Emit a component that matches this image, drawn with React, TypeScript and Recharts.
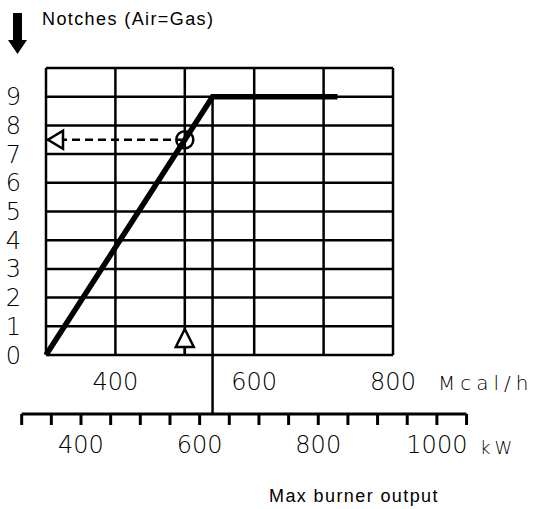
import {
  ComposedChart,
  Line,
  Scatter,
  XAxis,
  YAxis,
  CartesianGrid,
  ReferenceLine,
} from "recharts";

// ticks
const notchTicks = [0, 1, 2, 3, 4, 5, 6, 7, 8, 9, 10];
const notchLabels = [0, 1, 2, 3, 4, 5, 6, 7, 8, 9];
const mcalTicks = [300, 400, 500, 600, 700, 800];
const mcalLabels = [400, 600, 800];
const kwTicks = [300, 350, 400, 450, 500, 550, 600, 650, 700, 750, 800, 850, 900, 950, 1000, 1050];
const kwLabels = [400, 600, 800, 1000];

// regulation curve (Mcal/h -> notches)
const curveMcal = [300, 540, 720];
const curveNotches = [0, 9, 9];

// reading example
const readingMcal = 500;
const readingNotch = 7.5;
const maxOutputMcal = 540;

// kW values lying under the left / right edge of the Mcal grid
const kwDomain = [341, 926];
// where the kW axis sits, in notch units (below 0)
const kwAxisNotch = -2.06;

const kwRows = kwTicks.map((kw) => ({ kw }));
const curveData = curveMcal.map((m, i) => ({ mcal: m, notch: curveNotches[i] }));
const dashData = [
  { mcal: mcalTicks[0], notch: readingNotch },
  { mcal: readingMcal, notch: readingNotch },
];
const circleData = [{ mcal: readingMcal, notch: readingNotch }];
const arrowData = [
  { mcal: mcalTicks[0], notch: readingNotch, dir: "left" },
  { mcal: readingMcal, notch: 0, dir: "up" },
];

const digitFont = {
  fontFamily: "'DejaVu Sans', sans-serif",
  fontWeight: 200,
  fontSize: 24,
  fill: "#000",
};

const titleFont = {
  fontFamily: "'Liberation Sans', Arial, sans-serif",
  fontSize: 18,
  letterSpacing: 1.4,
  fill: "#000",
};

const ArrowShape = (props: any) => {
  const { cx, cy, payload } = props;
  if (payload.dir === "left") {
    return (
      <path
        d={`M${cx + 2},${cy} L${cx + 17},${cy - 9} L${cx + 17},${cy + 9} Z`}
        fill="#fff"
        stroke="#000"
        strokeWidth={2.5}
      />
    );
  }
  return (
    <g>
      <path
        d={`M${cx},${cy - 26} L${cx + 9},${cy - 8} L${cx - 9},${cy - 8} Z`}
        fill="#fff"
        stroke="#000"
        strokeWidth={2.5}
      />
      <line x1={cx} y1={cy - 8} x2={cx} y2={cy} stroke="#000" strokeWidth={2.5} />
    </g>
  );
};

const CircleShape = (props: any) => (
  <circle cx={props.cx} cy={props.cy} r={8.5} fill="none" stroke="#000" strokeWidth={2.5} />
);

const YTitle = (props: any) => {
  const { x, y } = props.viewBox;
  return (
    <g>
      <path
        d={`M${x + 7},${y - 55} L${x + 16},${y - 55} L${x + 16},${y - 28} L${x + 21},${y - 28} L${x + 11.5},${y - 14} L${x + 2},${y - 28} L${x + 7},${y - 28} Z`}
        fill="#000"
      />
      <text x={x + 36} y={y - 43} {...titleFont}>
        Notches (Air=Gas)
      </text>
    </g>
  );
};

const McalTitle = (props: any) => {
  const { x, y, width } = props.viewBox;
  return (
    <text x={x + width + 45} y={y + 35} {...digitFont} fontSize={20} letterSpacing={5}>
      Mcal/h
    </text>
  );
};

const KwTitle = (props: any) => {
  const { x, y, width } = props.viewBox;
  return (
    <g>
      <text x={x + width + 87} y={y + 40} {...digitFont} fontSize={18} letterSpacing={4}>
        kW
      </text>
      <text x={269} y={y + 88} {...titleFont}>
        Max burner output
      </text>
    </g>
  );
};

export default function App() {
  return (
    <div style={{ position: "absolute", left: 0, top: 0, width: 533, height: 509, background: "#fff" }}>
      <ComposedChart
        width={533}
        height={509}
        data={kwRows}
        margin={{ top: 68, right: 140, bottom: 35, left: 6 }}
      >
        <CartesianGrid stroke="#000" strokeWidth={2.5} />
        <XAxis
          dataKey="mcal"
          type="number"
          domain={[mcalTicks[0], mcalTicks[mcalTicks.length - 1]]}
          ticks={mcalTicks}
          interval={0}
          tickFormatter={(v: number) => (mcalLabels.includes(v) ? String(v) : "")}
          axisLine={false}
          tickLine={false}
          tickMargin={12}
          tick={digitFont}
          height={59}
          label={McalTitle}
        />
        <XAxis
          xAxisId="kw"
          dataKey="kw"
          type="number"
          domain={kwDomain}
          allowDataOverflow
          ticks={kwTicks}
          interval={0}
          tickFormatter={(v: number) => (kwLabels.includes(v) ? String(v) : "")}
          axisLine={false}
          tickLine={{ stroke: "#000", strokeWidth: 3 }}
          tickSize={11}
          tickMargin={11}
          tick={digitFont}
          height={60}
          label={KwTitle}
        />
        <YAxis
          dataKey="notch"
          type="number"
          domain={[0, 10]}
          ticks={notchTicks}
          interval={0}
          tickFormatter={(v: number) => (notchLabels.includes(v) ? String(v) : "")}
          axisLine={false}
          tickLine={false}
          tickMargin={19}
          tick={digitFont}
          width={40}
          label={YTitle}
        />
        <ReferenceLine
          segment={[
            { x: maxOutputMcal, y: curveNotches[1] },
            { x: maxOutputMcal, y: kwAxisNotch },
          ]}
          stroke="#000"
          strokeWidth={2.5}
          ifOverflow="visible"
        />
        <ReferenceLine
          xAxisId="kw"
          segment={[
            { x: kwTicks[0], y: kwAxisNotch },
            { x: kwTicks[kwTicks.length - 1], y: kwAxisNotch },
          ]}
          stroke="#000"
          strokeWidth={3}
          ifOverflow="visible"
        />
        <Line
          data={dashData}
          dataKey="notch"
          type="linear"
          stroke="#000"
          strokeWidth={2.5}
          strokeDasharray="8 5"
          dot={false}
          activeDot={false}
          isAnimationActive={false}
        />
        <Line
          data={curveData}
          dataKey="notch"
          type="linear"
          stroke="#000"
          strokeWidth={5.5}
          dot={false}
          activeDot={false}
          isAnimationActive={false}
        />
        <Scatter data={circleData} dataKey="notch" shape={CircleShape} isAnimationActive={false} />
        <Scatter data={arrowData} dataKey="notch" shape={ArrowShape} isAnimationActive={false} />
      </ComposedChart>
    </div>
  );
}
